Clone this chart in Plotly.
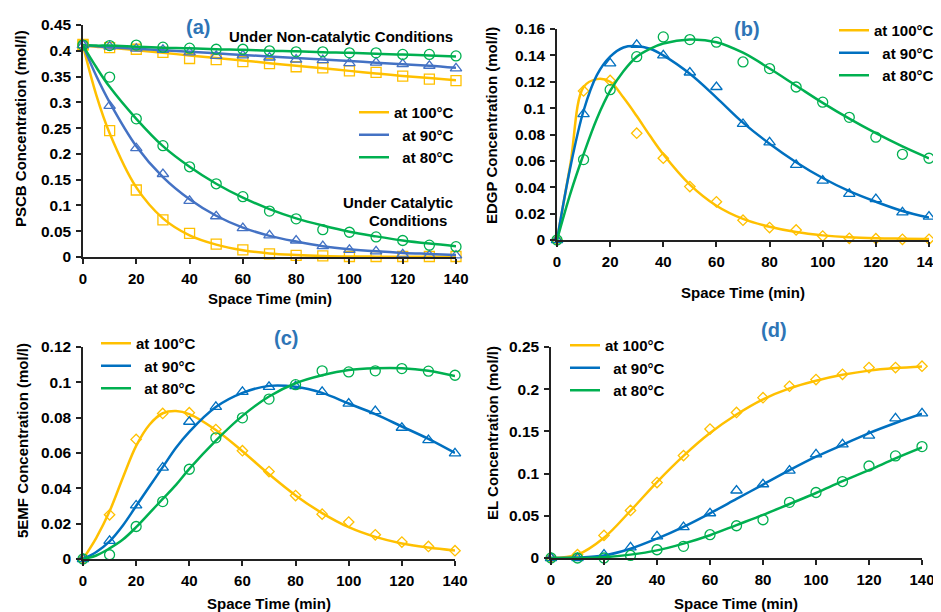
import plotly.graph_objects as go

# ---------------- data ----------------
T_EXP = [0, 10, 20, 30, 40, 50, 60, 70, 80, 90, 100, 110, 120, 130, 140]
X_TICKS = [0, 20, 40, 60, 80, 100, 120, 140]
TEMPS = ["at 100°C", "\u00a0\u00a0at 90°C", "\u00a0\u00a0at 80°C"]

# (a) PSCB
A_FIT_X = [0, 5, 10, 20, 30, 40, 50, 60, 70, 80, 90, 100, 110, 120, 130, 140]
A_CAT_100 = [0.4125, 0.245, 0.130, 0.072, 0.046, 0.025, 0.014, 0.006, 0.003, 0.002, 0.001, 0.001, 0.001, 0.001, 0.001]
A_CAT_90 = [0.411, 0.293, 0.211, 0.161, 0.109, 0.079, 0.056, 0.042, 0.032, 0.021, 0.014, 0.011, 0.005, 0.003, 0.003]
A_CAT_80 = [0.411, 0.349, 0.268, 0.216, 0.175, 0.142, 0.117, 0.089, 0.074, 0.053, 0.048, 0.039, 0.032, 0.023, 0.020]
A_NC_100 = [0.411, 0.406, 0.403, 0.397, 0.385, 0.383, 0.379, 0.375, 0.369, 0.367, 0.361, 0.358, 0.351, 0.345, 0.342]
A_NC_90 = [0.411, 0.408, 0.404, 0.402, 0.397, 0.390, 0.391, 0.387, 0.383, 0.382, 0.376, 0.377, 0.374, 0.371, 0.366]
A_NC_80 = [0.411, 0.410, 0.411, 0.407, 0.405, 0.403, 0.403, 0.400, 0.398, 0.398, 0.396, 0.396, 0.393, 0.393, 0.390]
A_CAT_100_FIT = [0.410, 0.314, 0.240, 0.135, 0.075, 0.042, 0.024, 0.013, 0.007, 0.004, 0.002, 0.001, 0.0007, 0.0005, 0.0004, 0.0003]
A_CAT_90_FIT = [0.410, 0.351, 0.300, 0.215, 0.155, 0.112, 0.080, 0.057, 0.041, 0.030, 0.021, 0.015, 0.011, 0.008, 0.006, 0.004]
A_CAT_80_FIT = [0.410, 0.368, 0.330, 0.268, 0.215, 0.175, 0.142, 0.115, 0.093, 0.075, 0.061, 0.049, 0.040, 0.032, 0.026, 0.021]
A_NC_100_FIT = [0.410, 0.408, 0.406, 0.401, 0.396, 0.391, 0.386, 0.381, 0.376, 0.371, 0.366, 0.361, 0.356, 0.351, 0.347, 0.343]
A_NC_90_FIT = [0.410, 0.409, 0.407, 0.404, 0.401, 0.398, 0.395, 0.392, 0.389, 0.386, 0.383, 0.380, 0.377, 0.374, 0.371, 0.367]
A_NC_80_FIT = [0.411, 0.410, 0.410, 0.408, 0.406, 0.405, 0.403, 0.402, 0.400, 0.399, 0.397, 0.396, 0.394, 0.393, 0.391, 0.389]
A_Y_TICKS = [0, 0.05, 0.1, 0.15, 0.2, 0.25, 0.3, 0.35, 0.4, 0.45]
A_Y_LABELS = ["0", "0.05", "0.1", "0.15", "0.2", "0.25", "0.3", "0.35", "0.4", "0.45"]

# (b) EDGP
B_FIT_X = [0, 5, 10, 15, 20, 25, 30, 35, 40, 50, 60, 70, 80, 90, 100, 110, 120, 130, 140]
B_100 = [0, 0.113, 0.121, 0.081, 0.062, 0.0405, 0.029, 0.015, 0.0094, 0.0076, 0.003, 0.0013, 0.001, 0.0005, 0.0005]
B_90 = [0, 0.0954, 0.134, 0.148, 0.140, 0.127, 0.116, 0.088, 0.074, 0.057, 0.045, 0.035, 0.031, 0.021, 0.0177]
B_80 = [0, 0.061, 0.114, 0.139, 0.154, 0.152, 0.150, 0.135, 0.130, 0.116, 0.1045, 0.093, 0.078, 0.065, 0.062]
B_100_FIT = [0, 0.057, 0.116, 0.122, 0.120, 0.108, 0.094, 0.079, 0.065, 0.042, 0.026, 0.016, 0.010, 0.006, 0.0035, 0.002, 0.0013, 0.001, 0.0008]
B_90_FIT = [0, 0.055, 0.098, 0.125, 0.139, 0.146, 0.147, 0.145, 0.140, 0.126, 0.108, 0.089, 0.073, 0.059, 0.047, 0.037, 0.029, 0.022, 0.017]
B_80_FIT = [0, 0.035, 0.065, 0.092, 0.113, 0.128, 0.139, 0.145, 0.149, 0.152, 0.150, 0.142, 0.130, 0.117, 0.104, 0.092, 0.081, 0.071, 0.062]
B_Y_TICKS = [0, 0.02, 0.04, 0.06, 0.08, 0.1, 0.12, 0.14, 0.16]
B_Y_LABELS = ["0", "0.02", "0.04", "0.06", "0.08", "0.1", "0.12", "0.14", "0.16"]

# (c) 5EMF
C_FIT_X = [0, 5, 10, 15, 20, 25, 30, 35, 40, 50, 60, 70, 80, 90, 100, 110, 120, 130, 140]
C_100 = [0, 0.025, 0.0677, 0.0824, 0.0828, 0.0733, 0.0613, 0.0495, 0.0359, 0.0254, 0.0209, 0.0137, 0.0096, 0.0071, 0.0047]
C_90 = [0, 0.0103, 0.0303, 0.0517, 0.0777, 0.0861, 0.0946, 0.0974, 0.0978, 0.0946, 0.088, 0.0837, 0.0743, 0.0673, 0.0598]
C_80 = [0, 0.0024, 0.0184, 0.0325, 0.0508, 0.0686, 0.0799, 0.0905, 0.0987, 0.1065, 0.1059, 0.1065, 0.1078, 0.1063, 0.104]
C_100_FIT = [0, 0.012, 0.027, 0.046, 0.064, 0.076, 0.0825, 0.0838, 0.082, 0.073, 0.061, 0.048, 0.036, 0.026, 0.018, 0.0125, 0.0088, 0.0065, 0.0048]
C_90_FIT = [0, 0.004, 0.010, 0.019, 0.030, 0.041, 0.052, 0.063, 0.072, 0.086, 0.094, 0.098, 0.0975, 0.094, 0.088, 0.082, 0.075, 0.068, 0.060]
C_80_FIT = [0, 0.002, 0.006, 0.011, 0.018, 0.026, 0.034, 0.042, 0.051, 0.067, 0.081, 0.092, 0.0995, 0.104, 0.107, 0.108, 0.108, 0.1065, 0.1035]
C_Y_TICKS = [0, 0.02, 0.04, 0.06, 0.08, 0.1, 0.12]
C_Y_LABELS = ["0", "0.02", "0.04", "0.06", "0.08", "0.1", "0.12"]

# (d) EL
D_FIT_X = [0, 10, 20, 30, 40, 50, 60, 70, 80, 90, 100, 110, 120, 130, 140]
D_100 = [0, 0.004, 0.0268, 0.0563, 0.0894, 0.1213, 0.1528, 0.1724, 0.190, 0.2035, 0.2114, 0.2177, 0.2256, 0.2256, 0.2272]
D_90 = [0, 0, 0.004, 0.0126, 0.0256, 0.0366, 0.053, 0.080, 0.0874, 0.1035, 0.1228, 0.1346, 0.1449, 0.1654, 0.1713]
D_80 = [0, 0, 0, 0.003, 0.0098, 0.0138, 0.0276, 0.0382, 0.0453, 0.066, 0.0776, 0.0906, 0.109, 0.121, 0.132]
D_100_FIT = [0, 0.004, 0.024, 0.056, 0.090, 0.121, 0.148, 0.170, 0.188, 0.201, 0.210, 0.217, 0.222, 0.225, 0.227]
D_90_FIT = [0, 0.0005, 0.003, 0.011, 0.023, 0.037, 0.053, 0.070, 0.087, 0.104, 0.120, 0.134, 0.148, 0.160, 0.171]
D_80_FIT = [0, 0, 0.001, 0.004, 0.009, 0.017, 0.027, 0.039, 0.051, 0.064, 0.077, 0.091, 0.104, 0.118, 0.131]
D_Y_TICKS = [0, 0.05, 0.1, 0.15, 0.2, 0.25]
D_Y_LABELS = ["0", "0.05", "0.1", "0.15", "0.2", "0.25"]

X_TITLE = "Space Time (min)"
Y_TITLES = ["PSCB Concentration (mol/l)", "EDGP Concentration (mol/l)",
            "5EMF Concentration (mol/l)", "EL Concentration (mol/l)"]

# ---------------- style ----------------
ORANGE = "#FFC000"
BLUE = "#0070C0"
BLUE_A = "#4472C4"
GREEN = "#00B050"
FONT = "Liberation Sans Narrow, Liberation Sans, Arial, sans-serif"
OFF = 8                      # default page body margin
W, H = 941 - OFF, 612 - OFF  # figure fits exactly in the window

fig = go.Figure()


def add_series(xa, ya, fit_x, fit_y, mx, my, color, symbol, msize, name, legend, showlegend):
    ax = dict(xaxis=xa, yaxis=ya)
    fig.add_trace(go.Scatter(x=fit_x, y=fit_y, mode="lines", name=name,
                             line=dict(color=color, width=2.5, shape="spline", smoothing=1.0),
                             legend=legend, showlegend=showlegend, cliponaxis=False, **ax))
    fig.add_trace(go.Scatter(x=mx, y=my, mode="markers", showlegend=False,
                             marker=dict(symbol=symbol, size=msize, color=color,
                                         line=dict(color=color, width=1.3)),
                             cliponaxis=False, **ax))


# panel a
add_series("x", "y", A_FIT_X, A_NC_100_FIT, T_EXP, A_NC_100, ORANGE, "square-open", 10, TEMPS[0], "legend", False)
add_series("x", "y", A_FIT_X, A_NC_90_FIT, T_EXP, A_NC_90, BLUE_A, "triangle-up-open", 10, TEMPS[1], "legend", False)
add_series("x", "y", A_FIT_X, A_NC_80_FIT, T_EXP, A_NC_80, GREEN, "circle-open", 10, TEMPS[2], "legend", False)
add_series("x", "y", A_FIT_X, A_CAT_100_FIT, T_EXP, A_CAT_100, ORANGE, "square-open", 10, TEMPS[0], "legend", True)
add_series("x", "y", A_FIT_X, A_CAT_90_FIT, T_EXP, A_CAT_90, BLUE_A, "triangle-up-open", 10, TEMPS[1], "legend", True)
add_series("x", "y", A_FIT_X, A_CAT_80_FIT, T_EXP, A_CAT_80, GREEN, "circle-open", 10, TEMPS[2], "legend", True)

# panel b
add_series("x2", "y2", B_FIT_X, B_100_FIT, T_EXP, B_100, ORANGE, "diamond-open", 8, TEMPS[0], "legend2", True)
add_series("x2", "y2", B_FIT_X, B_90_FIT, T_EXP, B_90, BLUE, "triangle-up-open", 10, TEMPS[1], "legend2", True)
add_series("x2", "y2", B_FIT_X, B_80_FIT, T_EXP, B_80, GREEN, "circle-open", 10, TEMPS[2], "legend2", True)

# panel c
add_series("x3", "y3", C_FIT_X, C_100_FIT, T_EXP, C_100, ORANGE, "diamond-open", 8, TEMPS[0], "legend3", True)
add_series("x3", "y3", C_FIT_X, C_90_FIT, T_EXP, C_90, BLUE, "triangle-up-open", 10, TEMPS[1], "legend3", True)
add_series("x3", "y3", C_FIT_X, C_80_FIT, T_EXP, C_80, GREEN, "circle-open", 10, TEMPS[2], "legend3", True)

# panel d
add_series("x4", "y4", D_FIT_X, D_100_FIT, T_EXP, D_100, ORANGE, "diamond-open", 8, TEMPS[0], "legend4", True)
add_series("x4", "y4", D_FIT_X, D_90_FIT, T_EXP, D_90, BLUE, "triangle-up-open", 10, TEMPS[1], "legend4", True)
add_series("x4", "y4", D_FIT_X, D_80_FIT, T_EXP, D_80, GREEN, "circle-open", 10, TEMPS[2], "legend4", True)


def px_x(p):
    return (p - OFF) / W


def px_y(p):
    return 1 - (p - OFF) / H


def xaxis(dom, anchor):
    return dict(domain=[px_x(dom[0]), px_x(dom[1])], range=[0, 140], anchor=anchor,
                tickvals=X_TICKS, ticktext=[str(v) for v in X_TICKS], automargin=False,
                showline=True, linecolor="#222", linewidth=1.5, ticks="outside", ticklen=5,
                tickcolor="#222", tickwidth=1.5, showgrid=False, zeroline=False,
                ticklabelstandoff=2, ticklabeloverflow="allow", tickfont=dict(size=15))


def yaxis(dom, anchor, rng, vals, labels):
    return dict(domain=[px_y(dom[1]), px_y(dom[0])], range=rng, anchor=anchor,
                tickvals=vals, ticktext=labels, automargin=False,
                showline=True, linecolor="#222", linewidth=1.5, ticks="outside", ticklen=5,
                tickcolor="#222", tickwidth=1.5, showgrid=False, zeroline=False,
                ticklabelstandoff=2, ticklabeloverflow="allow", tickfont=dict(size=15.5))


def legend(xp, yp):
    return dict(x=px_x(xp), y=px_y(yp), xref="paper", yref="paper", xanchor="left", yanchor="top",
                bgcolor="rgba(0,0,0,0)", font=dict(size=15), tracegroupgap=0, itemclick=False)


fig.update_layout(
    width=W, height=H,
    margin=dict(l=0, r=0, t=0, b=0),
    paper_bgcolor="white", plot_bgcolor="white",
    font=dict(family=FONT, size=15, color="black", weight="bold"),
    xaxis=xaxis((83, 456), "y"),
    yaxis=yaxis((25, 257), "x", [0, 0.45], A_Y_TICKS, A_Y_LABELS),
    xaxis2=xaxis((557, 929), "y2"),
    yaxis2=yaxis((29, 240), "x2", [0, 0.16], B_Y_TICKS, B_Y_LABELS),
    xaxis3=xaxis((83, 455), "y3"),
    yaxis3=yaxis((347, 559), "x3", [0, 0.12], C_Y_TICKS, C_Y_LABELS),
    xaxis4=xaxis((551, 922), "y4"),
    yaxis4=yaxis((347, 558), "x4", [0, 0.25], D_Y_TICKS, D_Y_LABELS),
    legend=legend(354, 96),
    legend2=legend(834, 14),
    legend3=legend(96, 327),
    legend4=legend(565, 329),
)

LABEL_BLUE = "#2E75B6"
annots = [
    dict(text="(a)", x=198, y=27, color=LABEL_BLUE, size=20, xanchor="center"),
    dict(text="(b)", x=747, y=29, color=LABEL_BLUE, size=20, xanchor="center"),
    dict(text="(c)", x=286, y=338, color=LABEL_BLUE, size=20, xanchor="center"),
    dict(text="(d)", x=774, y=330, color=LABEL_BLUE, size=20, xanchor="center"),
    dict(text="Under Non-catalytic Conditions", x=455, y=37, color="black", size=15, xanchor="right"),
    dict(text="Under Catalytic", x=455, y=203, color="black", size=15, xanchor="right"),
    dict(text="Conditions", x=449, y=221, color="black", size=15, xanchor="right"),
    dict(text=X_TITLE, x=270, y=298, color="black", size=15, xanchor="center"),
    dict(text=X_TITLE, x=743, y=292, color="black", size=15, xanchor="center"),
    dict(text=X_TITLE, x=269, y=603, color="black", size=15, xanchor="center"),
    dict(text=X_TITLE, x=736, y=603, color="black", size=15, xanchor="center"),
]
for a in annots:
    fig.add_annotation(text=a["text"], x=px_x(a["x"]), y=px_y(a["y"]), xref="paper", yref="paper",
                       xanchor=a["xanchor"], yanchor="middle", showarrow=False,
                       font=dict(color=a["color"], size=a["size"], family=FONT, weight="bold"))

# rotated y-axis titles
for title, (xc, yc) in zip(Y_TITLES, [(21, 129), (491, 126), (22, 441), (492, 433)]):
    fig.add_annotation(text=title, x=px_x(xc), y=px_y(yc), xref="paper", yref="paper",
                       xanchor="center", yanchor="middle", textangle=-90, showarrow=False,
                       font=dict(color="black", size=15, family=FONT, weight="bold"))

fig.write_html("out.html")
